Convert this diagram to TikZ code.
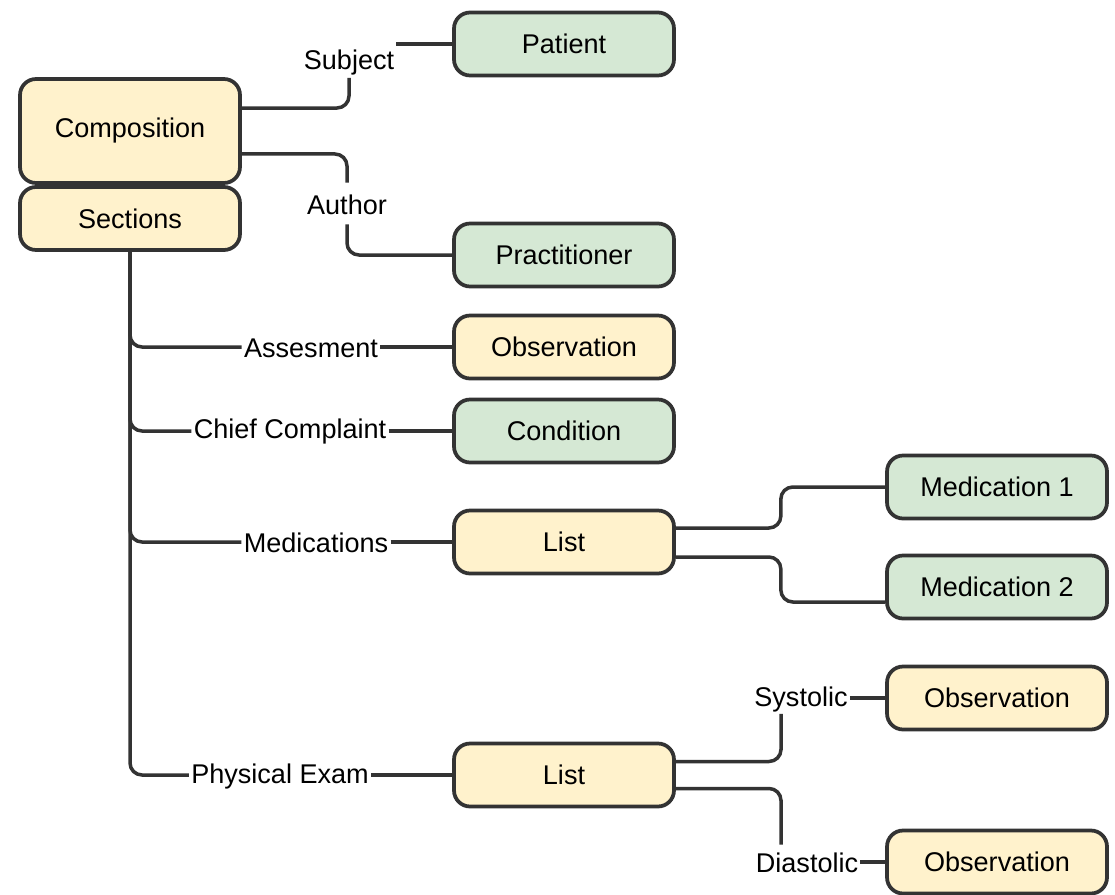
\documentclass[tikz,border=0pt]{standalone}
\usepackage{fontspec}
\setmainfont{Liberation Sans}
\definecolor{edge}{HTML}{333333}
\definecolor{resfill}{HTML}{D5E8D4}
\definecolor{docfill}{HTML}{FFF2CC}
\begin{document}
\begin{tikzpicture}[x=0.02cm, y=-0.02cm,
  every node/.style={font=\fontsize{15.4}{18}\selectfont},
  box/.style={draw=edge, line width=0.075cm, rounded corners=0.32cm,
    minimum width=4.4cm, minimum height=1.26cm},
  res/.style={box, fill=resfill},
  doc/.style={box, fill=docfill},
  tag/.style={inner sep=0.04cm},
  link/.style={draw=edge, line width=0.07cm, rounded corners=0.24cm}]
  \useasboundingbox (0,0) rectangle (1115,895);
  % composition and its sections
  \node[doc, minimum height=2.08cm] (comp) at (130,131) {Composition};
  \node[doc] (sect) at (130,218.5) {Sections};
  % subject and author
  \node[tag] (subj) at (349,63) {Subject};
  \node[tag] (auth) at (347,205) {Author};
  \node[res] (patient) at (564,44) {Patient};
  \node[res] (pract) at (564,255) {Practitioner};
  % sections
  \node[tag] (assess) at (311,348) {Assesment};
  \node[tag] (chief) at (290,432) {Chief Complaint};
  \node[tag] (meds) at (316,543) {Medications};
  \node[tag] (exam) at (280,776) {Physical Exam};
  \node[doc] (obsA) at (564,347) {Observation};
  \node[res] (cond) at (564,431) {Condition};
  \node[doc] (listM) at (564,542) {List};
  \node[doc] (listP) at (564,775) {List};
  % list entries
  \node[res] (med1) at (997,487) {Medication 1};
  \node[res] (med2) at (997,587) {Medication 2};
  \node[tag] (sys) at (801,699) {Systolic};
  \node[tag] (dia) at (807,863) {Diastolic};
  \node[doc] (obsS) at (997,698) {Observation};
  \node[doc] (obsD) at (997,862) {Observation};

  \draw[link] ([yshift=0.46cm]comp.east) -| (subj.south);
  \draw[link] (subj.east |- patient.west) -- (patient.west);
  \draw[link] ([yshift=-0.46cm]comp.east) -| ([yshift=0.2cm]auth.north);
  \draw[link] ([yshift=-0.14cm]auth.south) |- (pract.west);

  \draw[link] (sect.south) |- (assess.west |- obsA.west);
  \draw[link] (sect.south) |- (chief.west |- cond.west);
  \draw[link] (sect.south) |- (meds.west |- listM.west);
  \draw[link] (sect.south) |- (exam.west |- listP.west);
  \draw[link] (assess.east |- obsA.west) -- (obsA.west);
  \draw[link] (chief.east |- cond.west) -- (cond.west);
  \draw[link] (meds.east |- listM.west) -- (listM.west);
  \draw[link] (exam.east |- listP.west) -- (listP.west);

  \draw[link] ([yshift=0.28cm]listM.east) -- ++(105,0) |- (med1.west);
  \draw[link] ([yshift=-0.3cm]listM.east) -- ++(105,0) |- ([yshift=-0.3cm]med2.west);
  \draw[link] ([yshift=0.27cm]listP.east) -| ([xshift=-0.4cm]sys.south);
  \draw[link] ([yshift=-0.27cm]listP.east) -| ([xshift=-0.52cm,yshift=0.12cm]dia.north);
  \draw[link] (sys.east |- obsS.west) -- (obsS.west);
  \draw[link] (dia.east |- obsD.west) -- (obsD.west);
\end{tikzpicture}
\end{document}
